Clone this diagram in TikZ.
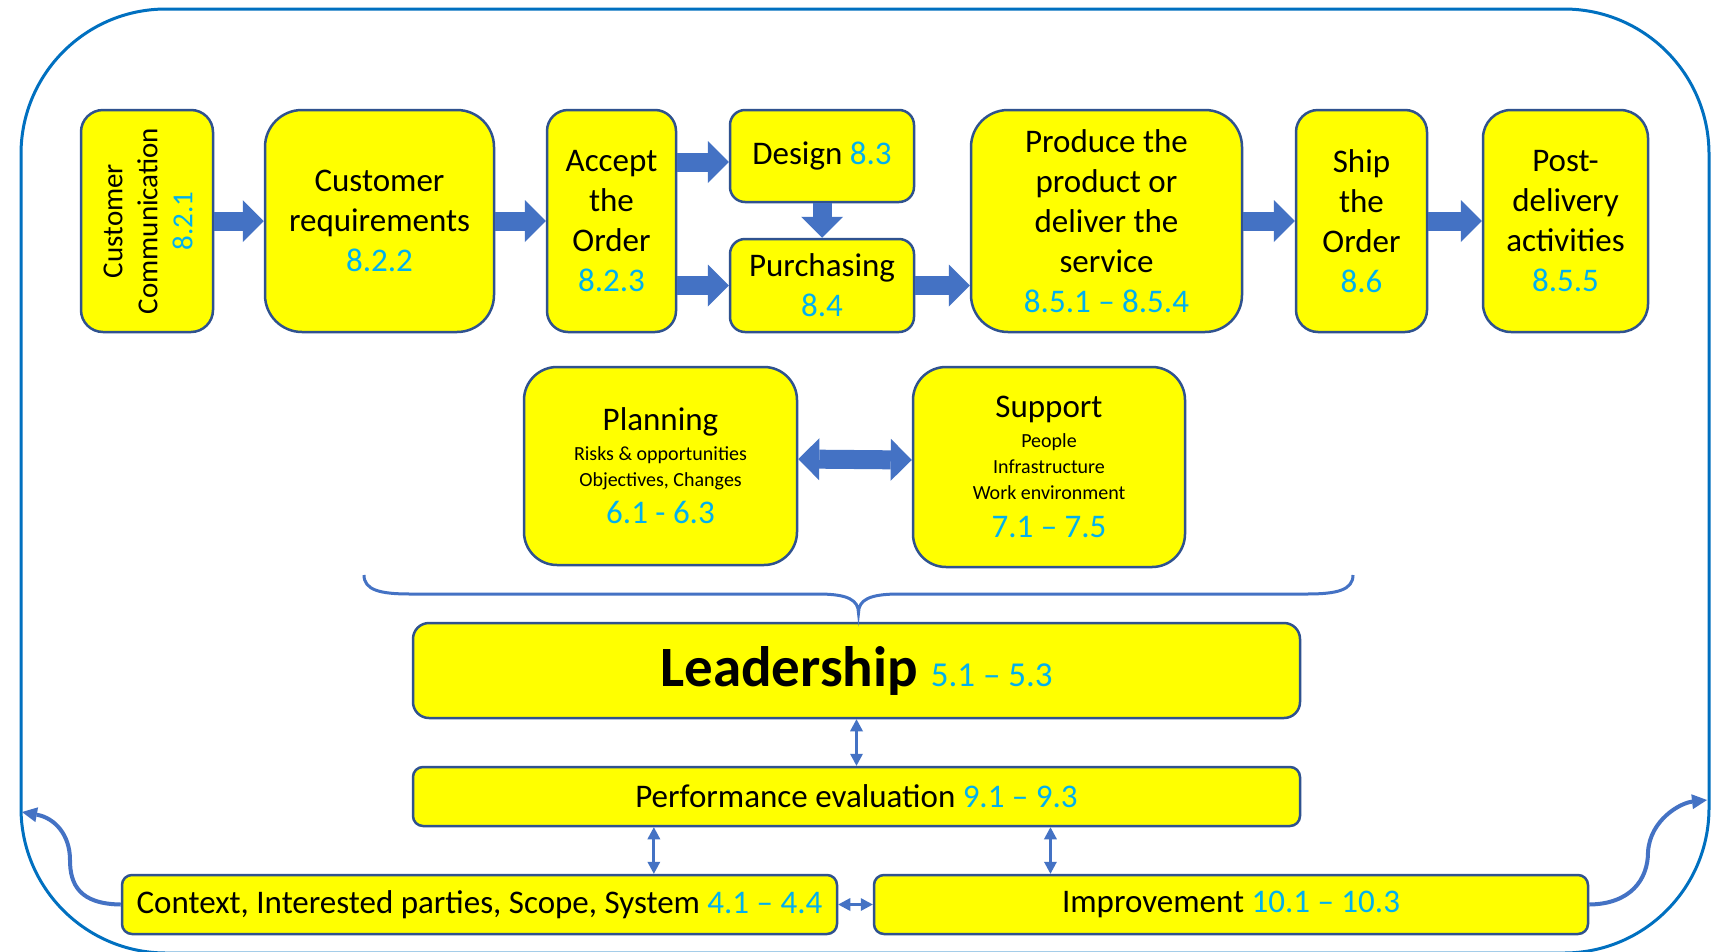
\documentclass[tikz,border=0pt]{standalone}
\usepackage{fontspec}
\setmainfont{Carlito}
\usetikzlibrary{arrows.meta,calc}
\definecolor{boxline}{HTML}{2F528F}
\definecolor{boxfill}{HTML}{FFFF00}
\definecolor{arrowblue}{HTML}{4472C4}
\definecolor{num}{HTML}{00B0F0}
\definecolor{frameblue}{HTML}{0070C0}
\begin{document}
\begin{tikzpicture}[x=1pt,y=-1pt,
  ybox/.style={draw=boxline, fill=boxfill, line width=2.5pt, align=center, inner sep=0pt, font=\fontsize{33}{40}\selectfont},
  subbox/.style={ybox, font=\fontsize{20}{26}\selectfont},
  blk/.style={line width=19pt, draw=arrowblue, -{Triangle[length=21pt,width=42pt,line width=0pt]}},
  blkboth/.style={line width=19pt, draw=arrowblue, {Triangle[length=21pt,width=42pt,line width=0pt]}-{Triangle[length=21pt,width=42pt,line width=0pt]}},
  smallarrow/.style={line width=3pt, draw=arrowblue, {Triangle[length=12pt,width=13pt,line width=0pt]}-{Triangle[length=12pt,width=13pt,line width=0pt]}},
  backarrow/.style={line width=4pt, draw=arrowblue, -{Triangle[length=15pt,width=15pt,line width=0pt]}}
]
\useasboundingbox (0,0) rectangle (1721,951);
\fill[white] (0,0) rectangle (1721,951);
% outer frame
\draw[frameblue, line width=3pt, rounded corners=145pt] (21,9) rectangle (1709,953);

% top row
\node[ybox, rounded corners=22pt, minimum width=132pt, minimum height=222pt] (cc) at (147,221) {};
\node[rotate=90, align=center, inner sep=0pt, font=\fontsize{29}{35}\selectfont] (cctext) at ([xshift=1pt]cc.center) {Customer\\Communication\\\textcolor{num}{8.2.1}};
\node[ybox, rounded corners=37pt, minimum width=229pt, minimum height=222pt] (cr) at (379.5,221) {Customer\\requirements\\\textcolor{num}{8.2.2}};
\node[ybox, rounded corners=21pt, minimum width=129pt, minimum height=222pt] (ao) at (611.5,221) {Accept\\the\\Order\\\textcolor{num}{8.2.3}};
\node[ybox, rounded corners=15pt, minimum width=184pt, minimum height=92pt] (des) at (822,156) {Design \textcolor{num}{8.3}};
\node[ybox, rounded corners=15pt, minimum width=184pt, minimum height=93pt] (pur) at (822,285.5) {Purchasing\\\textcolor{num}{8.4}};
\node[ybox, rounded corners=37pt, minimum width=271pt, minimum height=222pt] (pro) at (1106.5,221) {Produce the\\product or\\deliver the\\service\\\textcolor{num}{8.5.1 – 8.5.4}};
\node[ybox, rounded corners=22pt, minimum width=131pt, minimum height=222pt] (ship) at (1361.5,221) {Ship\\the\\Order\\\textcolor{num}{8.6}};
\node[ybox, rounded corners=28pt, minimum width=165pt, minimum height=222pt] (post) at (1565.5,221) {Post-\\delivery\\activities\\\textcolor{num}{8.5.5}};

% middle row
\node[subbox, rounded corners=33pt, minimum width=273pt, minimum height=198pt] (plan) at (660.5,466) {{\fontsize{33}{40}\selectfont Planning}\\[4pt]Risks \& opportunities\\Objectives, Changes\\[11pt]{\fontsize{33}{40}\selectfont\textcolor{num}{6.1 - 6.3}}};
\node[subbox, rounded corners=33pt, minimum width=272pt, minimum height=200pt] (sup) at (1049,467) {{\fontsize{33}{40}\selectfont Support}\\[4pt]People\\Infrastructure\\Work environment\\[12pt]{\fontsize{33}{40}\selectfont\textcolor{num}{7.1 – 7.5}}};

% bottom blocks
\node[ybox, rounded corners=16pt, minimum width=887pt, minimum height=95pt] (lead) at (856.5,670.5) {{\fontsize{57}{60}\selectfont\bfseries Leadership }{\fontsize{35}{40}\selectfont\textcolor{num}{5.1 – 5.3}}};
\node[ybox, rounded corners=10pt, minimum width=887pt, minimum height=59pt] (perf) at (856.5,796.5) {Performance evaluation \textcolor{num}{9.1 – 9.3}};
\node[ybox, rounded corners=10pt, minimum width=715pt, minimum height=59pt] (ctx) at (479.5,904.5) {Context, Interested parties, Scope, System \textcolor{num}{4.1 – 4.4}};
\node[ybox, rounded corners=10pt, minimum width=714pt, minimum height=59pt] (imp) at (1231,904.5) {Improvement \textcolor{num}{10.1 – 10.3}};

% block arrows
\draw[blk] (cc.east) -- (cr.west);
\draw[blk] (cr.east) -- (ao.west);
\draw[blk] ([yshift=-6pt]ao.east |- des.west) -- ([yshift=-6pt]des.west);
\draw[blk] (ao.east |- pur.west) -- (pur.west);
\draw[blk] (des.south) -- (pur.north);
\draw[blk] (pur.east) -- (pro.west |- pur.east);
\draw[blk] (pro.east) -- (ship.west);
\draw[blk] (ship.east) -- (post.west);
\draw[blkboth] ([yshift=7pt]plan.east) -- ([yshift=7pt]sup.west);

% brace
\draw[arrowblue, line width=3pt] (364,575) .. controls (364,590) and (380,594) .. (410,594) -- (818,594) .. controls (848,594) and (858.5,600) .. (858.5,613) .. controls (858.5,600) and (869,594) .. (899,594) -- (1307,594) .. controls (1337,594) and (1353,590) .. (1353,575);

% thin double arrows
\draw[smallarrow] (lead.south) -- (perf.north);
\coordinate (p1) at ($(ctx.north west)!0.743!(ctx.north east)$);
\draw[smallarrow] (p1) -- (perf.south -| p1);
\coordinate (p2) at ($(imp.north west)!0.248!(imp.north east)$);
\draw[smallarrow] (p2) -- (perf.south -| p2);
\draw[smallarrow] (ctx.east) -- (imp.west);

% return arrows
\coordinate (lt) at (22,812);
\coordinate (rt) at (1707,800);
\draw[backarrow] (ctx.west) .. controls (80,904) and (70,885) .. (70,860) .. controls (70,835) and (55,818) .. (lt);
\draw[backarrow] (imp.east) .. controls (1630,904) and (1648,880) .. (1648,852) .. controls (1650,820) and (1680,803) .. (rt);
\end{tikzpicture}
\end{document}
